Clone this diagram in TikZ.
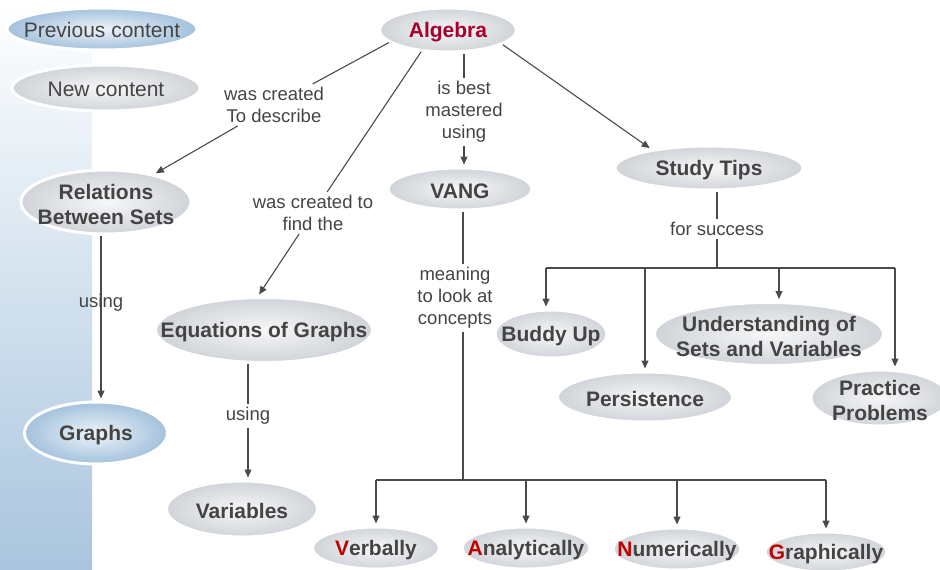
\documentclass[tikz,border=0pt]{standalone}
\usepackage{fontspec}
\setmainfont{Liberation Sans}
\usetikzlibrary{shapes.geometric,arrows.meta}

\definecolor{txtgray}{HTML}{444444}
\definecolor{linegray}{HTML}{4A4A4A}
\definecolor{algred}{HTML}{A6002C}
\definecolor{vred}{HTML}{C00000}
\definecolor{ballin}{HTML}{F6F7F8}
\definecolor{ballout}{HTML}{D0D3D8}
\definecolor{bluein}{HTML}{EEF4F9}
\definecolor{blueout}{HTML}{A3C1DC}
\definecolor{stripblue}{HTML}{A9C5DE}

\tikzset{
    concept/.style={ellipse, draw=white, line width=3pt, inner color=ballin, outer color=ballout},
    oldconcept/.style={ellipse, draw=white, line width=3pt, inner color=bluein, outer color=blueout},
    ctext/.style={text=txtgray, font=\fontsize{21}{25}\selectfont\bfseries, align=center, inner sep=0pt, yshift=-2pt},
    legtext/.style={text=txtgray, font=\fontsize{21}{25}\selectfont, inner sep=0pt, yshift=-1pt},
    ltext/.style={text=txtgray, font=\fontsize{18.5}{22}\selectfont, align=center, inner sep=3pt},
    link/.style={draw=linegray, line width=1.1pt},
    arr/.style={link, -{Triangle[length=8pt,width=7pt]}, shorten >=2pt}
}

\begin{document}
\begin{tikzpicture}[x=1pt,y=-1pt]
    \useasboundingbox (0,0) rectangle (940,570);
    \shade[top color=white, bottom color=stripblue] (0,0) rectangle (92,570);

    \node[oldconcept, minimum width=190pt, minimum height=42pt, label={[legtext]center:Previous content}] (prev) at (102,29) {};
    \node[concept, minimum width=188pt, minimum height=46pt, label={[legtext]center:New content}] (newc) at (106,88) {};

    \node[concept, minimum width=137pt, minimum height=44pt, label={[ctext,text=algred]center:Algebra}] (alg) at (448,30) {};
    \node[concept, minimum width=170pt, minimum height=64pt, label={[ctext]center:{Relations\\Between Sets}}] (rel) at (106,202) {};
    \node[oldconcept, minimum width=143pt, minimum height=62pt, label={[ctext]center:Graphs}] (grp) at (96,433) {};
    \node[concept, minimum width=144pt, minimum height=42pt, label={[ctext]center:VANG}] (vang) at (460,189) {};
    \node[concept, minimum width=188pt, minimum height=44pt, label={[ctext]center:Study Tips}] (tips) at (709,168) {};
    \node[concept, minimum width=217pt, minimum height=65pt, label={[ctext]center:Equations of Graphs}] (eqn) at (264,330) {};
    \node[concept, minimum width=151pt, minimum height=56pt, label={[ctext]center:Variables}] (var) at (242,509) {};
    \node[concept, minimum width=112pt, minimum height=48pt, label={[ctext]center:Buddy Up}] (buddy) at (551,334) {};
    \node[concept, minimum width=229pt, minimum height=63pt, label={[ctext]center:{Understanding of\\Sets and Variables}}] (und) at (769,334) {};
    \node[concept, minimum width=175pt, minimum height=50pt, label={[ctext]center:Persistence}] (pers) at (645,397) {};
    \node[concept, minimum width=138pt, minimum height=56pt, label={[ctext]center:{Practice\\Problems}}] (prac) at (880,398) {};
    \node[concept, minimum width=127pt, minimum height=42pt, label={[ctext]center:{\color{vred}V}erbally}] (verb) at (376,548) {};
    \node[concept, minimum width=128pt, minimum height=42pt, label={[ctext]center:{\color{vred}A}nalytically}] (anal) at (526,548) {};
    \node[concept, minimum width=128pt, minimum height=42pt, label={[ctext]center:{\color{vred}N}umerically}] (num) at (677,549) {};
    \node[concept, minimum width=122pt, minimum height=40pt, label={[ctext]center:{\color{vred}G}raphically}] (graph) at (826,552) {};

    \node[ltext] (describe) at (274,105) {was created\\To describe};
    \node[ltext] (findthe) at (313,213) {was created to\\find the};
    \node[ltext] (mastered) at (464,112) {is best\\mastered\\using};
    \node[ltext] (meaning) at (455,298) {meaning\\to look at\\concepts};
    \node[ltext] (success) at (717,229) {for success};
    \node[ltext] (usingA) at (101,303) {using};
    \node[ltext] (usingB) at (248,416) {using};

    \coordinate (vjoin) at (463,480);
    \coordinate (sjoin) at (717,268);

    \draw[link] (alg.192) -- (describe);
    \draw[arr] (describe) -- (rel.30);
    \draw[link] (alg.219) -- (findthe);
    \draw[arr] (findthe) -- (eqn.100);
    \draw[link] (mastered) -- (mastered |- alg.south);
    \draw[arr] (mastered) -- (mastered |- vang.north);
    \draw[arr] (alg.345) -- (tips.162);

    \draw[arr] (rel.south -| usingA) -- (grp.north -| usingA);
    \draw[link] (usingB) -- (usingB |- eqn.south);
    \draw[arr] (usingB) -- (usingB |- var.north);

    \draw[link] (vang.south -| vjoin) -- (meaning.north -| vjoin);
    \draw[link] (meaning.south -| vjoin) -- (vjoin);
    \draw[link] (verb |- vjoin) -- (graph |- vjoin);
    \foreach \n in {verb,anal,num,graph}
        \draw[arr] (\n |- vjoin) -- (\n.north);

    \draw[link] (success) -- (success |- tips.south);
    \draw[link] (success) -- (sjoin);
    \draw[link] ([xshift=-5pt]buddy.north |- sjoin) -- ([xshift=15pt]prac.north |- sjoin);
    \foreach \n/\dx in {buddy/-5,pers/0,und/10,prac/15}
        \draw[arr] ([xshift=\dx pt]\n.north |- sjoin) -- ([xshift=\dx pt]\n.north);
\end{tikzpicture}
\end{document}
